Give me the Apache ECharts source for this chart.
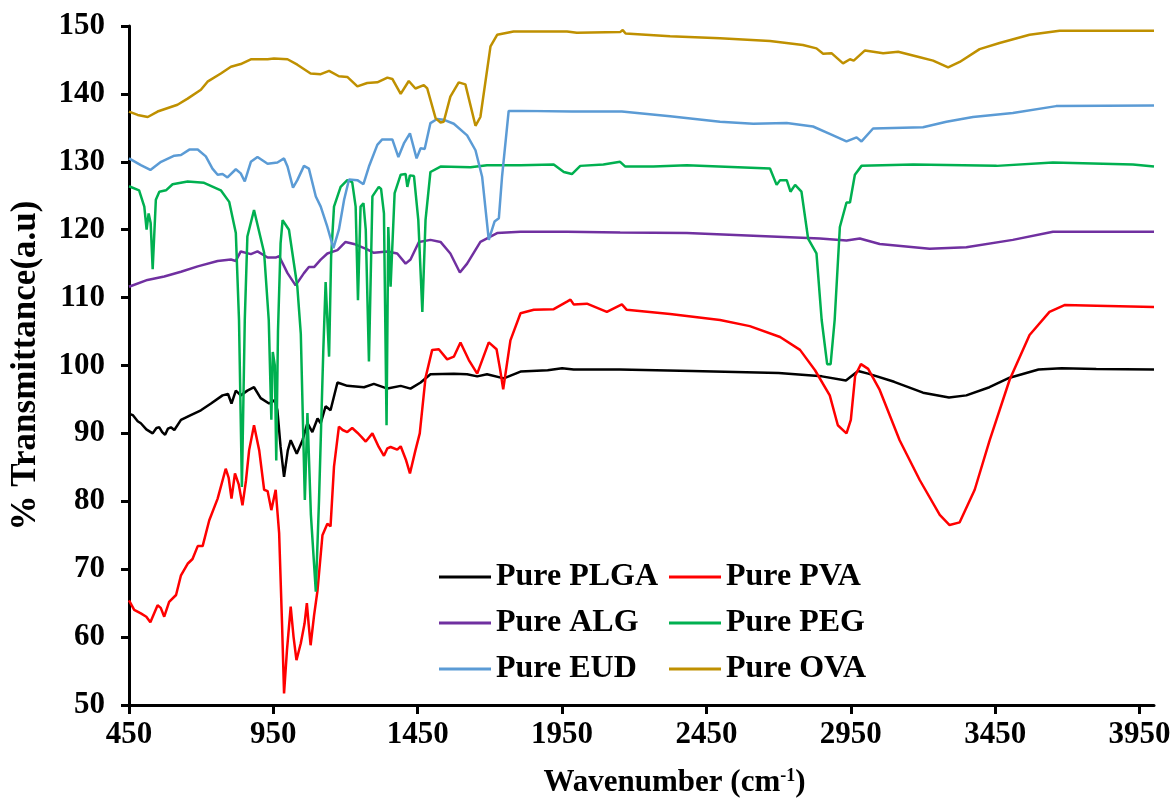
<!DOCTYPE html>
<html>
<head>
<meta charset="utf-8">
<title>FTIR spectra</title>
<script src="https://cdn.jsdelivr.net/npm/echarts@6/dist/echarts.min.js"></script>
<style>
  html, body { margin: 0; padding: 0; background: #fff; }
  #chart { width: 1176px; height: 811px; }
</style>
</head>
<body>
<div id="chart"></div>
<script>
// wavenumber (cm-1) / transmittance pairs
const plga = [[450,92.9],[463,92.7],[480,91.8],[491,91.5],[510,90.6],[532,90.0],[545,90.8],[555,90.9],[565,90.2],[575,89.8],[585,90.7],[595,90.9],[607,90.5],[630,92.0],[664,92.7],[699,93.4],[734,94.4],[774,95.6],[793,95.8],[805,94.4],[820,96.3],[837,95.6],[860,96.3],[883,96.8],[906,95.2],[935,94.4],[955,94.9],[964,93.4],[975,88.0],[987,83.6],[1000,87.5],[1010,89.0],[1031,87.0],[1051,89.0],[1068,91.5],[1085,90.2],[1103,92.2],[1114,91.5],[1131,94.0],[1148,93.4],[1172,97.5],[1206,97.0],[1264,96.8],[1298,97.3],[1345,96.6],[1391,97.0],[1425,96.6],[1460,97.5],[1494,98.7],[1575,98.8],[1621,98.7],[1656,98.4],[1690,98.7],[1748,98.1],[1806,99.1],[1900,99.3],[1950,99.6],[1990,99.4],[2150,99.4],[2400,99.2],[2700,98.9],[2850,98.4],[2933,97.8],[2975,99.2],[3010,98.8],[3100,97.6],[3200,96.0],[3290,95.3],[3350,95.6],[3430,96.8],[3500,98.2],[3600,99.4],[3680,99.6],[3800,99.5],[4000,99.4]];

const pva = [[450,65.4],[468,64.0],[491,63.5],[510,63.0],[524,62.2],[549,64.7],[560,64.3],[572,63.0],[589,65.2],[613,66.2],[630,69.1],[653,70.8],[670,71.5],[688,73.4],[705,73.4],[728,77.2],[757,80.4],[785,84.8],[795,83.5],[805,80.4],[817,84.1],[830,82.5],[843,79.4],[855,83.0],[866,87.5],[883,91.2],[901,87.5],[918,81.7],[930,81.5],[943,78.7],[958,81.7],[970,75.3],[980,62.0],[987,51.7],[997,58.0],[1010,64.5],[1020,60.0],[1030,56.6],[1045,59.1],[1058,62.0],[1066,65.0],[1072,62.0],[1079,58.8],[1091,63.2],[1103,66.9],[1120,75.0],[1137,76.7],[1148,76.3],[1160,85.1],[1177,91.0],[1190,90.5],[1206,90.2],[1223,90.8],[1241,90.1],[1255,89.5],[1270,88.8],[1293,90.0],[1315,88.0],[1333,86.7],[1345,87.8],[1356,88.0],[1379,87.6],[1391,88.1],[1410,86.0],[1423,84.1],[1442,87.5],[1457,90.0],[1477,98.2],[1500,102.3],[1523,102.4],[1552,100.9],[1575,101.3],[1598,103.4],[1627,100.8],[1656,98.8],[1696,103.4],[1723,102.4],[1735,99.5],[1746,96.5],[1771,103.7],[1806,107.7],[1852,108.2],[1921,108.3],[1967,109.4],[1979,109.7],[1990,109.0],[2036,109.1],[2105,107.9],[2157,109.0],[2174,108.2],[2324,107.6],[2497,106.7],[2600,105.8],[2705,104.2],[2774,102.3],[2826,99.3],[2877,95.6],[2905,91.2],[2920,90.6],[2935,90.0],[2950,92.0],[2965,98.5],[2985,100.2],[3010,99.5],[3050,96.4],[3119,89.0],[3189,83.1],[3258,78.0],[3292,76.5],[3327,76.9],[3379,81.7],[3431,89.0],[3500,97.9],[3569,104.5],[3638,107.9],[3690,108.9],[3800,108.8],[4000,108.6]];

const alg = [[450,111.6],[514,112.6],[572,113.1],[630,113.8],[688,114.6],[757,115.4],[803,115.6],[820,115.4],[837,116.8],[872,116.4],[895,116.8],[930,115.9],[958,115.9],[970,116.1],[999,113.6],[1027,111.8],[1056,113.6],[1073,114.5],[1091,114.5],[1114,115.6],[1137,116.5],[1172,117.0],[1200,118.2],[1229,117.9],[1275,117.1],[1298,116.6],[1345,116.8],[1379,116.5],[1408,115.0],[1425,115.6],[1454,118.2],[1494,118.5],[1529,118.2],[1563,116.5],[1596,113.7],[1621,115.0],[1667,118.2],[1725,119.5],[1806,119.7],[1967,119.7],[2151,119.6],[2382,119.5],[2612,119.1],[2843,118.7],[2935,118.4],[2981,118.7],[3050,117.9],[3223,117.2],[3350,117.4],[3511,118.5],[3650,119.7],[4000,119.7]];

const peg = [[450,126.4],[485,125.8],[503,123.4],[511,120.0],[518,122.4],[525,121.0],[532,114.2],[543,124.4],[555,125.6],[578,125.8],[601,126.7],[653,127.1],[710,126.9],[768,125.8],[797,124.1],[820,119.5],[831,106.7],[841,82.1],[851,106.7],[860,119.0],[883,122.9],[918,116.6],[934,106.7],[943,92.0],[948,102.0],[955,100.0],[960,86.0],[966,105.0],[975,118.0],[982,121.4],[1004,120.0],[1033,111.6],[1045,104.7],[1059,80.2],[1068,93.0],[1080,78.0],[1097,66.7],[1108,80.0],[1123,102.3],[1131,112.3],[1143,101.3],[1150,116.0],[1160,123.4],[1183,126.3],[1206,127.3],[1223,127.0],[1235,123.4],[1243,109.6],[1252,123.4],[1262,123.9],[1270,120.0],[1281,100.6],[1293,124.9],[1315,126.3],[1323,126.0],[1333,122.4],[1342,91.2],[1348,120.4],[1356,111.6],[1370,125.4],[1391,128.1],[1408,128.2],[1414,126.3],[1423,128.0],[1437,127.9],[1452,121.4],[1466,107.9],[1477,121.4],[1494,128.5],[1529,129.3],[1633,129.2],[1690,129.5],[1806,129.5],[1921,129.6],[1956,128.5],[1984,128.2],[2013,129.4],[2093,129.6],[2151,130.0],[2169,129.3],[2266,129.3],[2382,129.5],[2670,129.0],[2693,126.6],[2705,127.3],[2728,127.3],[2741,125.6],[2757,126.6],[2779,125.6],[2802,118.7],[2831,116.5],[2849,106.7],[2868,100.2],[2880,100.2],[2894,106.7],[2912,120.4],[2935,124.0],[2947,124.0],[2964,128.1],[2987,129.4],[3166,129.6],[3455,129.4],[3650,129.9],[3927,129.6],[4000,129.3]];

const eud = [[450,130.5],[491,129.5],[524,128.8],[561,130.0],[607,130.9],[630,131.0],[659,131.8],[688,131.8],[716,130.8],[739,129.0],[757,128.1],[774,128.2],[791,127.7],[820,128.9],[837,128.3],[851,127.1],[872,130.0],[895,130.7],[930,129.7],[964,129.9],[987,130.5],[999,129.3],[1018,126.2],[1033,127.3],[1056,129.4],[1073,129.0],[1097,124.9],[1114,123.4],[1137,120.4],[1158,117.3],[1177,120.0],[1195,124.4],[1212,127.4],[1241,127.3],[1262,126.7],[1281,129.3],[1310,132.5],[1327,133.3],[1362,133.3],[1383,130.7],[1402,132.7],[1423,134.2],[1446,130.5],[1460,132.0],[1474,131.9],[1494,135.7],[1517,136.3],[1539,136.2],[1575,135.6],[1621,133.9],[1650,131.7],[1673,127.8],[1696,118.5],[1716,121.2],[1731,121.7],[1742,127.8],[1765,137.5],[1806,137.5],[1984,137.4],[2157,137.4],[2324,136.7],[2497,135.9],[2612,135.6],[2728,135.7],[2819,135.2],[2877,134.1],[2935,133.0],[2970,133.6],[2987,133.0],[3027,134.9],[3200,135.1],[3281,135.9],[3373,136.6],[3511,137.2],[3661,138.2],[4000,138.3]];

const ova = [[450,137.4],[480,136.9],[515,136.6],[549,137.4],[618,138.4],[653,139.3],[699,140.6],[722,141.8],[768,143.0],[803,144.0],[837,144.4],[872,145.1],[930,145.1],[952,145.2],[999,145.1],[1033,144.3],[1079,143.0],[1114,142.9],[1143,143.4],[1177,142.6],[1206,142.5],[1241,141.1],[1275,141.6],[1310,141.7],[1345,142.4],[1362,142.2],[1391,140.0],[1419,141.9],[1442,140.8],[1471,141.3],[1483,140.8],[1512,136.4],[1529,135.8],[1540,135.9],[1563,139.6],[1592,141.7],[1615,141.4],[1650,135.3],[1667,136.6],[1702,147.0],[1725,148.7],[1782,149.2],[1967,149.2],[2001,149.0],[2151,149.1],[2160,149.4],[2170,148.9],[2324,148.5],[2497,148.2],[2670,147.8],[2784,147.2],[2831,146.7],[2854,145.9],[2883,146.0],[2923,144.5],[2947,145.1],[2960,144.9],[2999,146.4],[3062,146.0],[3114,146.2],[3189,145.4],[3235,144.9],[3287,143.9],[3327,144.7],[3396,146.6],[3465,147.5],[3569,148.7],[3673,149.3],[4000,149.3]];

const names = ['Pure PLGA', 'Pure PVA', 'Pure ALG', 'Pure PEG', 'Pure EUD', 'Pure OVA'];
const spectra = [plga, pva, alg, peg, eud, ova];
const colors = ['#000000', '#FF0000', '#7030A0', '#00B050', '#5B9BD5', '#BF9000'];
const xTicks = [450, 950, 1450, 1950, 2450, 2950, 3450, 3950];

const font = "'Liberation Serif', 'Times New Roman', serif";
const legendText = { fontFamily: font, fontWeight: 'bold', fontSize: 32, color: '#000', lineHeight: 36 };

const eChart = echarts.init(document.getElementById('chart'));

const option = {
  animation: false,
  color: colors,
  grid: { left: 128, right: 22, top: 26, bottom: 106 },
  legend: [
    {
      data: [names[0], names[2], names[4]],
      orient: 'vertical', left: 434, top: 554,
      icon: 'rect', itemWidth: 52, itemHeight: 3, itemGap: 10,
      textStyle: legendText
    },
    {
      data: [names[1], names[3], names[5]],
      orient: 'vertical', left: 664, top: 554,
      icon: 'rect', itemWidth: 52, itemHeight: 3, itemGap: 10,
      textStyle: legendText
    }
  ],
  xAxis: {
    type: 'value',
    min: 450,
    max: 4000,
    name: 'Wavenumber (cm{sup|-1})',
    nameLocation: 'middle',
    nameGap: 62,
    nameTextStyle: {
      fontFamily: font, fontWeight: 'bold', fontSize: 31, color: '#000',
      padding: [0, 0, 0, 66],
      rich: {
        sup: { fontFamily: font, fontWeight: 'bold', fontSize: 18, color: '#000', verticalAlign: 'top', lineHeight: 18 }
      }
    },
    axisLine: { show: true, onZero: false, lineStyle: { color: '#000', width: 3 } },
    axisTick: { show: true, customValues: xTicks, length: 9, lineStyle: { color: '#000', width: 3 } },
    axisLabel: {
      customValues: xTicks, margin: 14,
      formatter: v => String(v),
      fontFamily: font, fontWeight: 'bold', fontSize: 31, color: '#000'
    },
    splitLine: { show: false }
  },
  yAxis: {
    type: 'value',
    min: 50,
    max: 150,
    interval: 10,
    name: '% Transmittance(a.u)',
    nameLocation: 'middle',
    nameGap: 86,
    nameTextStyle: { fontFamily: font, fontWeight: 'bold', fontSize: 35, color: '#000' },
    axisLine: { show: true, lineStyle: { color: '#000', width: 3 } },
    axisTick: { show: true, length: 8, lineStyle: { color: '#000', width: 3 } },
    axisLabel: { margin: 24, fontFamily: font, fontWeight: 'bold', fontSize: 31, color: '#000' },
    splitLine: { show: false }
  },
  series: names.map((n, i) => ({
    name: n,
    type: 'line',
    data: spectra[i],
    showSymbol: false,
    symbol: 'none',
    lineStyle: { width: 2.5, color: colors[i] },
    itemStyle: { color: colors[i] }
  }))
};

eChart.setOption(option);
</script>
</body>
</html>
